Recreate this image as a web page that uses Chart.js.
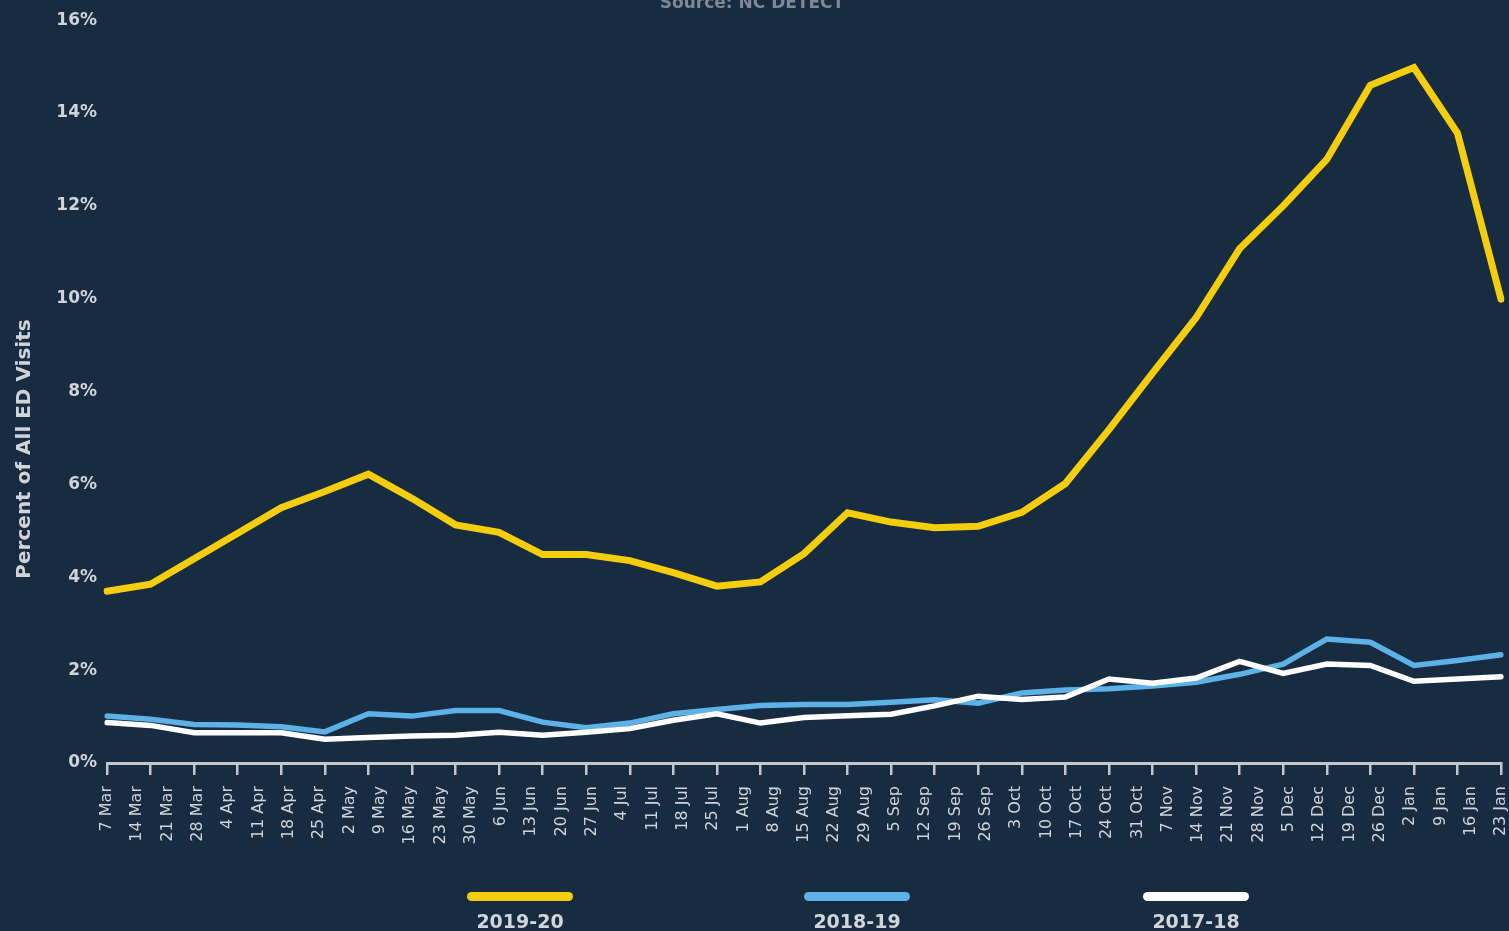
<!DOCTYPE html>
<html>
<head>
<meta charset="utf-8">
<script src="https://cdn.jsdelivr.net/npm/chart.js@4.4.1/dist/chart.umd.min.js"></script>
<style>
  html, body { margin: 0; padding: 0; background: #172b41; overflow: hidden; }
  #wrap { position: relative; width: 1509px; height: 931px; }
  #c { position: absolute; left: 0; top: 0; }
  .lg { position: absolute; top: 892px; width: 106px; text-align: center; }
  .sw { width: 106px; height: 9px; border-radius: 5px; margin: 0 auto; }
  .lt { font-family: "DejaVu Sans", sans-serif; font-weight: bold; font-size: 19px; color: #d2d5d9; margin-top: 9px; line-height: 22px; }
</style>
</head>
<body>
<div id="wrap">
  <canvas id="c" width="1509" height="931"></canvas>
  <div class="lg" style="left:467px"><div class="sw" style="background:#f4cd0c"></div><div class="lt">2019-20</div></div>
  <div class="lg" style="left:804px"><div class="sw" style="background:#5cb2e6"></div><div class="lt">2018-19</div></div>
  <div class="lg" style="left:1143px"><div class="sw" style="background:#ffffff"></div><div class="lt">2017-18</div></div>
</div>
<script>
// Week labels along the bottom axis
const weekLabels = ["7 Mar","14 Mar","21 Mar","28 Mar","4 Apr","11 Apr","18 Apr","25 Apr","2 May","9 May","16 May","23 May","30 May","6 Jun","13 Jun","20 Jun","27 Jun","4 Jul","11 Jul","18 Jul","25 Jul","1 Aug","8 Aug","15 Aug","22 Aug","29 Aug","5 Sep","12 Sep","19 Sep","26 Sep","3 Oct","10 Oct","17 Oct","24 Oct","31 Oct","7 Nov","14 Nov","21 Nov","28 Nov","5 Dec","12 Dec","19 Dec","26 Dec","2 Jan","9 Jan","16 Jan","23 Jan"];

// Data points (placed on the axis tick marks)
const pointIds = ["1","2","3","4","5","6","7","8","9","10","11","12","13","14","15","16","17","18","19","20","21","22","23","24","25","26","27","28","29","30","31","32","33"];

const season2019_20 = [3.70,3.85,4.40,4.95,5.50,5.85,6.22,5.70,5.13,4.97,4.49,4.49,4.36,4.10,3.81,3.90,4.51,5.39,5.19,5.07,5.10,5.40,6.02,7.18,8.40,9.59,11.08,12.00,13.00,14.60,14.98,13.57,9.99];
const season2018_19 = [1.01,0.94,0.83,0.82,0.78,0.67,1.06,1.01,1.13,1.13,0.88,0.76,0.86,1.06,1.15,1.24,1.26,1.26,1.31,1.36,1.29,1.51,1.57,1.60,1.66,1.74,1.91,2.13,2.67,2.60,2.10,2.21,2.33];
const season2017_18 = [0.87,0.81,0.65,0.65,0.65,0.51,0.55,0.58,0.60,0.66,0.60,0.66,0.74,0.92,1.06,0.86,0.98,1.02,1.05,1.23,1.44,1.37,1.42,1.81,1.72,1.83,2.19,1.93,2.13,2.10,1.76,1.81,1.86];

const yTicks = [0,2,4,6,8,10,12,14,16];

const FONT = '"DejaVu Sans", sans-serif';
const AXIS_GRAY = '#c3c7cb';
const TEXT_GRAY = '#d0d4d8';

const textPlugin = {
  id: 'extraText',
  afterDraw(chart) {
    const ctx = chart.ctx;
    ctx.save();
    ctx.font = 'bold 17px ' + FONT;
    ctx.fillStyle = '#7d8996';
    ctx.textAlign = 'center';
    ctx.textBaseline = 'alphabetic';
    ctx.fillText('Source: NC DETECT', 752, 8);
    ctx.restore();

    ctx.save();
    ctx.translate(25, 449);
    ctx.rotate(-Math.PI / 2);
    ctx.font = 'bold 20px ' + FONT;
    ctx.fillStyle = TEXT_GRAY;
    ctx.textAlign = 'center';
    ctx.textBaseline = 'middle';
    ctx.fillText('Percent of All ED Visits', 0, 0);
    ctx.restore();
  }
};

new Chart(document.getElementById('c'), {
  type: 'line',
  data: {
    datasets: [
      { label: '2019-20', data: season2019_20, xAxisID: 'x', yAxisID: 'y', borderColor: '#f4cd0c', borderWidth: 7, order: 0 },
      { label: '2017-18', data: season2017_18, xAxisID: 'x', yAxisID: 'y', borderColor: '#ffffff', borderWidth: 5.5, order: 1 },
      { label: '2018-19', data: season2018_19, xAxisID: 'x', yAxisID: 'y', borderColor: '#5cb2e6', borderWidth: 5.5, order: 2 }
    ]
  },
  options: {
    responsive: false,
    animation: false,
    devicePixelRatio: 1,
    layout: { padding: { top: 16, right: 8, bottom: 0, left: 0 } },
    elements: {
      point: { radius: 0, hoverRadius: 0 },
      line: { tension: 0, borderCapStyle: 'round', borderJoinStyle: 'miter', fill: false }
    },
    plugins: { legend: { display: false }, tooltip: { enabled: false }, title: { display: false } },
    scales: {
      x: {
        type: 'category',
        labels: pointIds,
        position: 'bottom',
        weight: 0,
        offset: false,
        ticks: { display: false, autoSkip: false },
        grid: { display: true, drawOnChartArea: false, drawTicks: true, tickLength: 12, color: AXIS_GRAY, lineWidth: 2.5 },
        border: { display: true, color: AXIS_GRAY, width: 3 },
        afterFit(s) { s.height = 14; s.paddingLeft = 0; s.paddingRight = 0; }
      },
      x2: {
        type: 'category',
        labels: weekLabels,
        position: 'bottom',
        weight: 1,
        offset: false,
        ticks: { autoSkip: false, maxRotation: 90, minRotation: 90, padding: 9, color: TEXT_GRAY, font: { family: FONT, size: 16 } },
        grid: { display: false, drawTicks: false },
        border: { display: false },
        afterFit(s) { s.height = 154; s.paddingLeft = 0; s.paddingRight = 0; }
      },
      y: {
        type: 'linear',
        min: 0,
        max: 16,
        afterBuildTicks(s) { s.ticks = yTicks.map(v => ({ value: v })); },
        ticks: { padding: 10, color: TEXT_GRAY, font: { family: FONT, size: 17, weight: 'bold' }, callback: v => v + '%' },
        grid: { display: false, drawTicks: false },
        border: { display: false },
        afterFit(s) { s.width = 107; }
      }
    }
  },
  plugins: [textPlugin]
});
</script>
</body>
</html>
